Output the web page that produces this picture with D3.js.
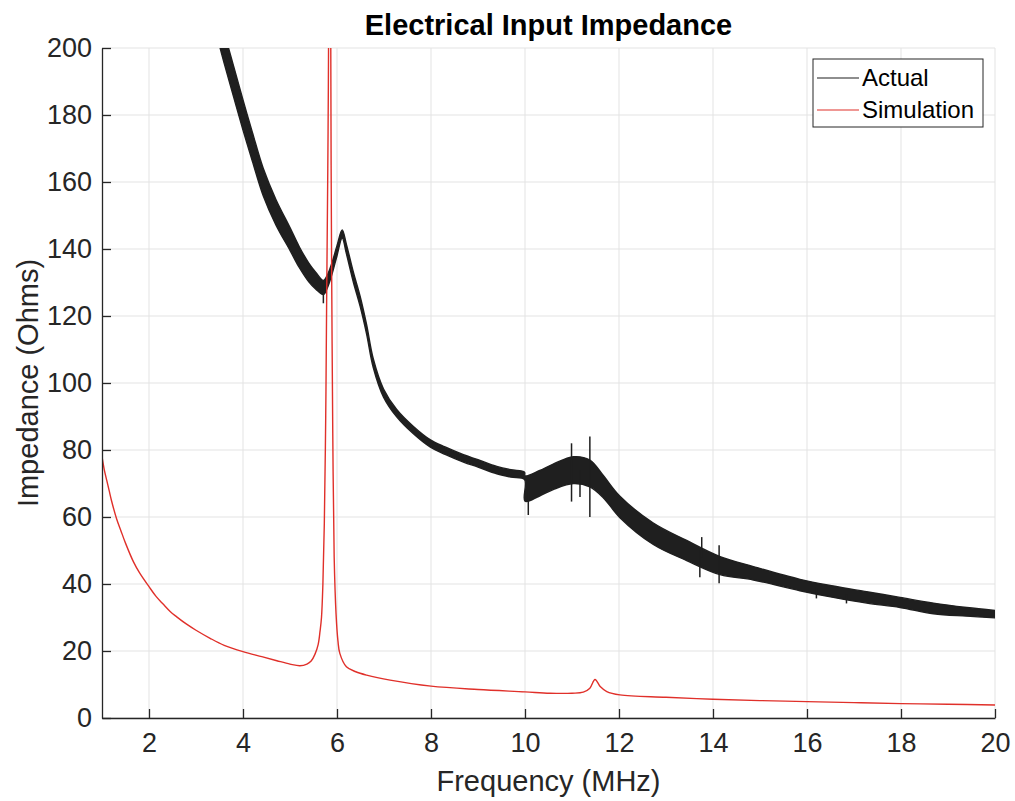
<!DOCTYPE html>
<html>
<head>
<meta charset="utf-8">
<script src="https://cdn.jsdelivr.net/npm/d3@7/dist/d3.min.js"></script>
<style>
  body { margin: 0; background: #fff; }
  svg { font-family: "Liberation Sans", Arial, sans-serif; }
  .grid line { stroke: #e3e3e3; stroke-width: 1; }
  .axis path, .axis line { stroke: #262626; stroke-width: 1.3; }
  .axis text { fill: #262626; font-size: 27px; }
</style>
</head>
<body>
<svg id="chart" width="1015" height="801"></svg>
<script>
// tick values
var xTicks = [2, 4, 6, 8, 10, 12, 14, 16, 18, 20];
var yTicks = [0, 20, 40, 60, 80, 100, 120, 140, 160, 180, 200];

// measured impedance, read as a centre value and a noise half-width (Ohms)
var actFreq   = [3.45, 3.6, 3.8, 4.0, 4.2, 4.43, 4.7, 5.0, 5.2, 5.4, 5.55, 5.71, 5.8, 5.9, 6.0, 6.11, 6.2, 6.35, 6.49, 6.63, 6.77, 6.99, 7.27, 7.62, 7.98, 8.3, 8.69, 9.0, 9.4, 9.7, 9.99,
                 10.0, 10.3, 10.6, 11.03, 11.38, 11.67, 12.02, 12.73, 13.44, 14.15, 14.86, 15.85, 16.56, 17.27, 17.98, 18.69, 19.4, 20];
var actMid    = [208, 200, 190, 180, 170.5, 160, 151, 143, 137.5, 133, 130.5, 128.5, 130.5, 134.5, 139.5, 144.5, 140, 131.5, 124.5, 116, 106, 97, 91, 86, 82, 79.8, 77.5, 76, 74, 73, 72.3,
                 68.5, 70, 72, 74, 73, 69, 63, 55, 50, 45.5, 43.2, 39.7, 37.7, 36, 34.5, 32.7, 31.7, 31];
var actSpread = [4.6, 4.6, 4.6, 4.5, 4.3, 4.1, 3.8, 3.4, 3.1, 2.8, 2.5, 2.1, 1.9, 1.7, 1.5, 1.2, 1.4, 1.5, 1.5, 1.4, 1.3, 1.2, 1.1, 1.1, 1.1, 1.1, 1.1, 1.1, 1.1, 1.1, 1.1,
                 3.8, 3.8, 3.8, 4.0, 4.0, 3.3, 3.2, 3.2, 3.0, 2.7, 2.0, 1.7, 1.7, 1.7, 1.5, 1.6, 1.3, 1.1];

// isolated noise spikes on the measured trace
var spikeFreq = [5.71, 10.07, 10.99, 11.17, 11.38, 13.72, 13.76, 14.13, 16.2, 16.84];
var spikeLo   = [123.8, 60.6, 64.6, 66, 60, 42, 48, 40.2, 35.7, 34.2];
var spikeHi   = [129, 68, 82, 74, 84, 50, 54, 51.6, 39, 37];

// simulated impedance
var simFreq = [1, 1.05, 1.1, 1.15, 1.2, 1.31, 1.4, 1.5, 1.67, 1.8, 2, 2.15, 2.3, 2.45, 2.59, 2.8, 3, 3.3, 3.6, 4, 4.4, 4.72, 5, 5.21, 5.36, 5.45, 5.53, 5.6, 5.64, 5.67, 5.7, 5.73, 5.76, 5.78, 5.81, 5.83, 5.845,
               5.86, 5.875, 5.89, 5.91, 5.94, 5.98, 6.02, 6.06, 6.2, 6.4, 6.63, 7.13, 8, 9, 10, 10.53, 11, 11.24, 11.38, 11.49, 11.6, 11.74, 12.02, 13, 14, 15, 16, 17, 18, 19, 20];
var simImp  = [78, 74, 71, 68, 65, 59.5, 56, 52.2, 46.6, 43.3, 39.2, 36.3, 34, 31.8, 30.2, 28, 26.2, 23.8, 21.7, 19.8, 18.3, 17.1, 16.1, 15.6, 16.1, 17.0, 19.0, 22, 26, 30, 40, 58, 90, 125, 175, 230, 320,
               240, 165, 125, 85, 48, 31, 23, 19.3, 15.3, 13.8, 12.8, 11.3, 9.5, 8.5, 7.8, 7.4, 7.4, 7.7, 8.9, 11.5, 9.4, 7.9, 6.9, 6.2, 5.6, 5.2, 4.9, 4.6, 4.3, 4.1, 3.9];

var svg = d3.select("#chart");
var x = d3.scaleLinear().domain([1, 20]).range([102, 995]);
var y = d3.scaleLinear().domain([0, 200]).range([718, 48]);

svg.append("clipPath").attr("id", "plot-clip")
    .append("rect")
    .attr("x", x(1)).attr("y", y(200))
    .attr("width", x(20) - x(1)).attr("height", y(0) - y(200));

// grid
var grid = svg.append("g").attr("class", "grid");
grid.selectAll(".gx").data(xTicks).enter().append("line")
    .attr("x1", d => x(d)).attr("x2", d => x(d))
    .attr("y1", y(0)).attr("y2", y(200));
grid.selectAll(".gy").data(yTicks).enter().append("line")
    .attr("x1", x(1)).attr("x2", x(20))
    .attr("y1", d => y(d)).attr("y2", d => y(d));

var plot = svg.append("g").attr("clip-path", "url(#plot-clip)");

// measured trace as a noisy band
var act = actFreq.map((f, i) => ({f: f, lo: actMid[i] - actSpread[i], hi: actMid[i] + actSpread[i]}));
var band = d3.area()
    .x(d => x(d.f))
    .y0(d => y(d.lo))
    .y1(d => y(d.hi))
    .curve(d3.curveCatmullRom.alpha(0.5));
plot.append("path")
    .datum(act)
    .attr("d", band)
    .attr("fill", "#1f1f1f")
    .attr("stroke", "#1f1f1f")
    .attr("stroke-width", 1.4)
    .attr("stroke-linejoin", "round");

plot.selectAll(".spike").data(spikeFreq).enter().append("line")
    .attr("class", "spike")
    .attr("x1", d => x(d)).attr("x2", d => x(d))
    .attr("y1", (d, i) => y(spikeLo[i])).attr("y2", (d, i) => y(spikeHi[i]))
    .attr("stroke", "#1f1f1f")
    .attr("stroke-width", 1.5);

// simulation
var sim = simFreq.map((f, i) => ({f: f, v: simImp[i]}));
var line = d3.line()
    .x(d => x(d.f))
    .y(d => y(d.v))
    .curve(d3.curveCatmullRom.alpha(0.5));
plot.append("path")
    .datum(sim)
    .attr("d", line)
    .attr("fill", "none")
    .attr("stroke", "#e0302a")
    .attr("stroke-width", 1.4);

// axes
svg.append("g")
    .attr("class", "axis")
    .attr("transform", "translate(0," + y(0) + ")")
    .call(d3.axisBottom(x).tickValues(xTicks).tickSizeInner(-9).tickSizeOuter(0).tickPadding(15));
svg.append("g")
    .attr("class", "axis")
    .attr("transform", "translate(" + x(1) + ",0)")
    .call(d3.axisLeft(y).tickValues(yTicks).tickSizeInner(-9).tickSizeOuter(0).tickPadding(10));

// labels
svg.append("text")
    .attr("x", (x(1) + x(20)) / 2).attr("y", 35)
    .attr("text-anchor", "middle")
    .attr("font-size", "29px").attr("font-weight", "bold")
    .attr("fill", "#000")
    .text("Electrical Input Impedance");
svg.append("text")
    .attr("x", (x(1) + x(20)) / 2).attr("y", 791)
    .attr("text-anchor", "middle")
    .attr("font-size", "29px")
    .attr("fill", "#262626")
    .text("Frequency (MHz)");
svg.append("text")
    .attr("transform", "translate(38," + (y(0) + y(200)) / 2 + ") rotate(-90)")
    .attr("text-anchor", "middle")
    .attr("font-size", "29px")
    .attr("fill", "#262626")
    .text("Impedance (Ohms)");

// legend
var legendItems = [{name: "Actual", color: "#1f1f1f"}, {name: "Simulation", color: "#e0302a"}];
var legend = svg.append("g").attr("transform", "translate(813,59)");
legend.append("rect")
    .attr("width", 170).attr("height", 68)
    .attr("fill", "#fff")
    .attr("stroke", "#262626").attr("stroke-width", 1);
var item = legend.selectAll(".item").data(legendItems).enter().append("g")
    .attr("transform", (d, i) => "translate(0," + (19 + i * 32) + ")");
item.append("line")
    .attr("x1", 4).attr("x2", 46)
    .attr("stroke", d => d.color).attr("stroke-width", 1.2);
item.append("text")
    .attr("x", 49).attr("dy", "0.35em")
    .attr("font-size", "24px")
    .attr("fill", "#000")
    .text(d => d.name);
</script>
</body>
</html>
